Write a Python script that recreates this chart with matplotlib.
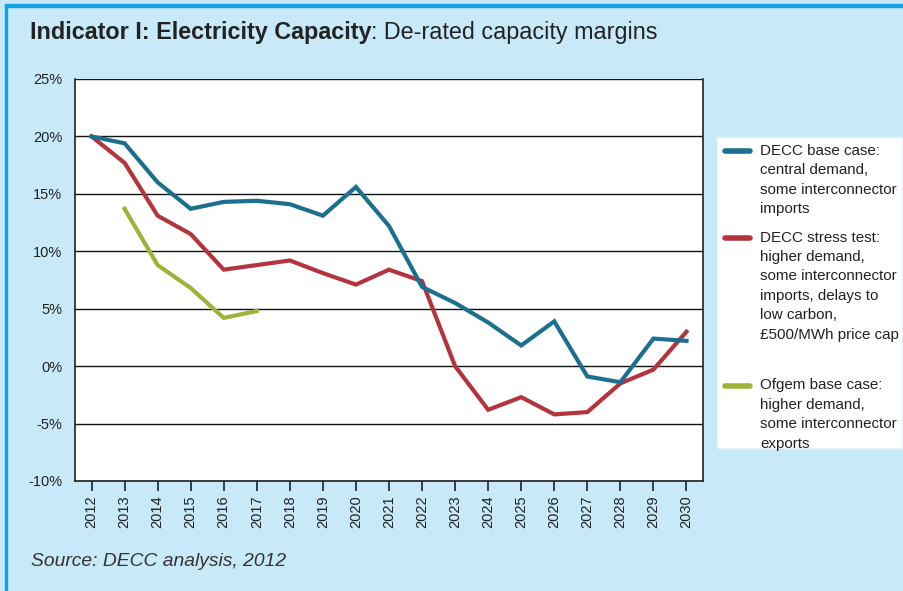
import matplotlib
matplotlib.use("Agg")
import matplotlib.pyplot as plt
from matplotlib.patches import Rectangle
from matplotlib.lines import Line2D

plt.rcParams['font.family'] = ['Liberation Sans', 'DejaVu Sans']

years = list(range(2012, 2031))
decc_base = [20.0, 19.4, 16.0, 13.7, 14.3, 14.4, 14.1, 13.1, 15.6, 12.2, 6.9, 5.5, 3.8, 1.8, 3.9, -0.9, -1.4, 2.4, 2.2]
decc_stress = [20.0, 17.7, 13.1, 11.5, 8.4, 8.8, 9.2, 8.1, 7.1, 8.4, 7.4, 0.0, -3.8, -2.7, -4.2, -4.0, -1.5, -0.3, 3.0]
ofgem_years = [2013, 2014, 2015, 2016, 2017]
ofgem_base = [13.7, 8.8, 6.8, 4.2, 4.8]
yticks = [-10, -5, 0, 5, 10, 15, 20, 25]

labels = [
    ["DECC base case:", "central demand,", "some interconnector", "imports"],
    ["DECC stress test:", "higher demand,", "some interconnector", "imports, delays to",
     "low carbon,", "£500/MWh price cap"],
    ["Ofgem base case:", "higher demand,", "some interconnector", "exports"],
]
colors = ["#1B6F8F", "#B3343D", "#9CB437"]

W, H = 904, 591
fig = plt.figure(figsize=(W / 100, H / 100), dpi=100)
fig.patch.set_facecolor("#C7E9F8")


def fx(px):
    return px / W


def fy(py):
    return 1 - py / H


# border lines
fig.patches.append(Rectangle((fx(5), fy(7)), 1, 3 / H, transform=fig.transFigure, color="#12A3E0", zorder=0))
fig.patches.append(Rectangle((fx(5), 0), 2 / W, fy(5), transform=fig.transFigure, color="#12A3E0", zorder=0))

ax = fig.add_axes([fx(75), fy(481), 628 / W, 402 / H])
ax.set_facecolor("white")
ax.set_xlim(2011.5, 2030.5)
ax.set_ylim(-10, 25)
ax.set_yticks(yticks)
ax.set_yticklabels([f"{v}%" for v in yticks])
ax.set_xticks(years)
ax.set_xticklabels([str(y) for y in years], rotation=90)
ax.tick_params(axis="y", length=0, pad=9, labelsize=10.5, colors="#222222")
ax.tick_params(axis="x", length=7, width=1.2, direction="out", pad=3, labelsize=10.5, colors="#222222")
ax.grid(axis="y", color="#111111", lw=1)
ax.set_axisbelow(True)
for s in ["left", "bottom", "right"]:
    ax.spines[s].set_color("#222222")
    ax.spines[s].set_linewidth(1.2)
ax.spines["top"].set_visible(False)

ax.plot(years, decc_stress, color=colors[1], lw=3, solid_joinstyle="miter")
ax.plot(ofgem_years, ofgem_base, color=colors[2], lw=3, solid_joinstyle="miter")
ax.plot(years, decc_base, color=colors[0], lw=3, solid_joinstyle="miter")

# legend box drawn manually
fig.patches.append(Rectangle((fx(717), fy(448)), (902 - 717) / W, (448 - 137) / H,
                             transform=fig.transFigure, facecolor="white", edgecolor="#E6F3FA", lw=1, zorder=1))
starts = [151, 237.5, 385.5]
step = 19.4
for c, lab, y0 in zip(colors, labels, starts):
    fig.lines.append(Line2D([fx(725), fx(750)], [fy(y0), fy(y0)], transform=fig.transFigure,
                            color=c, lw=4, solid_capstyle="round", zorder=2))
    for i, line in enumerate(lab):
        fig.text(fx(760), fy(y0 + i * step), line, fontsize=10.9, va="center", ha="left",
                 color="#222222", zorder=3)

t1 = fig.text(fx(30), fy(33), "Indicator I: Electricity Capacity", fontsize=16.8, fontweight="bold",
              va="center", ha="left", color="#222222")
fig.canvas.draw()
bb = t1.get_window_extent(renderer=fig.canvas.get_renderer())
fig.text(bb.x1 / W, fy(33), ": De-rated capacity margins", fontsize=16.8, va="center", ha="left",
         color="#222222")
fig.text(fx(31), fy(562), "Source: DECC analysis, 2012", fontsize=13.9, style="italic",
         va="center", ha="left", color="#333333")

fig.savefig("out.png", dpi=100, facecolor=fig.get_facecolor())
